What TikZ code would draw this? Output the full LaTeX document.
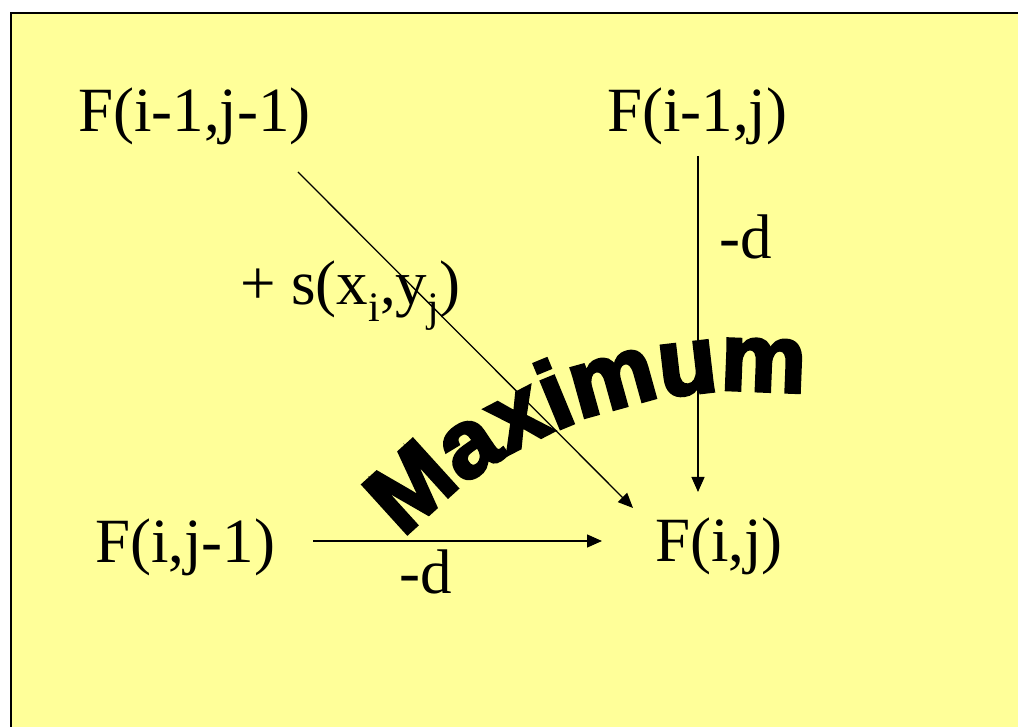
\documentclass[tikz,border=0pt]{standalone}
\usepackage{fontspec}
\setmainfont{Liberation Serif}
\newfontfamily\blk[FakeBold=3.5]{Liberation Sans Bold}
\usetikzlibrary{arrows.meta,decorations.text}
\definecolor{slideyellow}{RGB}{255,255,153}
\newcommand\mysub[1]{\raisebox{-17pt}{\fontsize{42}{42}\selectfont #1}}
\tikzset{
  lbl/.style={inner sep=0pt, anchor=base west, font=\fontsize{63}{70}\selectfont},
  arr/.style={line width=1.3pt, -{Triangle[length=15pt,width=13pt]}}
}
\begin{document}
\begin{tikzpicture}[x=1pt,y=1pt]
\useasboundingbox (0,0) rectangle (1018,726);
\clip (0,0) rectangle (1018,726);
\fill[white] (0,0) rectangle (1018,726);
\fill[slideyellow] (11,-5) rectangle (1030,713);
\draw[line width=2pt] (11,-5) -- (11,713) -- (1030,713);
% nodes
\node[lbl] (a) at (78,594) {F(i-1,j-1)};
\node[lbl] (b) at (607,594) {F(i-1,j)};
\node[lbl] (c) at (95,163) {F(i,j-1)};
\node[lbl] (d) at (655,164) {F(i,j)};
\node[lbl] (ld1) at (719,467) {-d};
\node[lbl] (ld2) at (399,132) {-d};
\node[lbl] (ls) at (240,421) {+ s(x\mysub{i},y\mysub{j})};
% connector ends
\coordinate (aout) at (298,554);
\coordinate (din1) at (633,218);
\coordinate (bout) at (698,570);
\coordinate (din2) at (698,234);
\coordinate (cout) at (313,185);
\coordinate (din3) at (602,185);
\draw[arr] (aout) -- (din1);
\draw[arr] (bout) -- (din2);
\draw[arr] (cout) -- (din3);
% Maximum
\path[decorate, decoration={text along path, text align=center,
  text={|\blk\fontsize{96}{96}\selectfont|Maximum}}]
  (403,186) arc[start angle=137.3, end angle=82.3, radius=464];
\end{tikzpicture}
\end{document}
